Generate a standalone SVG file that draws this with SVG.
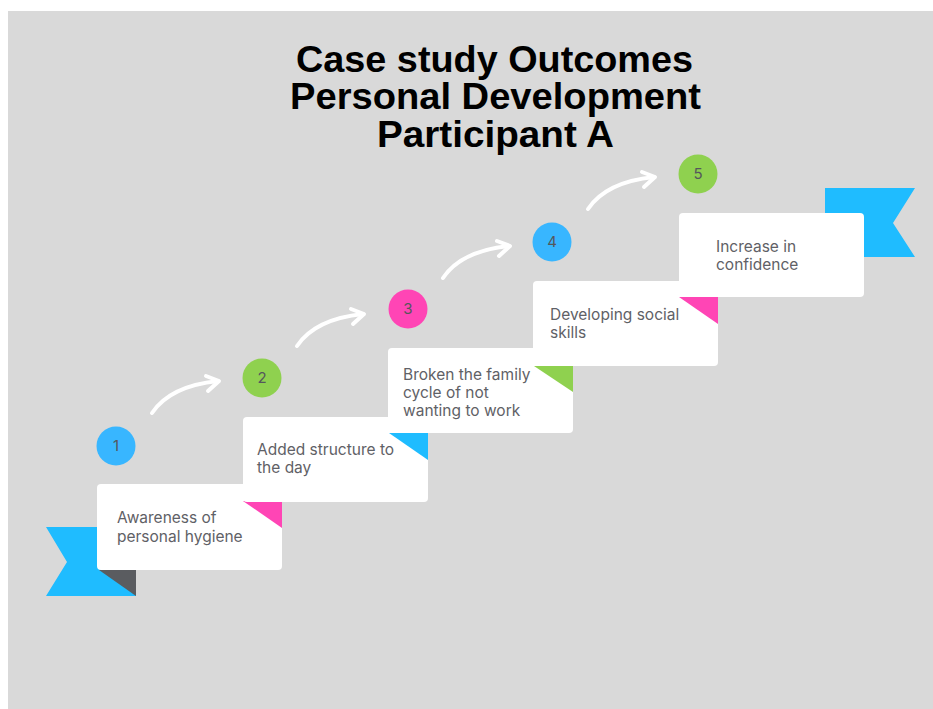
<svg xmlns="http://www.w3.org/2000/svg" width="933" height="709" viewBox="0 0 933 709">
  <defs>
    <style>
      .card { fill: #ffffff; }
      .label { font-family: Inter, "Open Sans", "Liberation Sans", sans-serif; font-size: 15.5px; fill: #5f6166; }
      .num { font-family: Inter, "Open Sans", "Liberation Sans", sans-serif; font-size: 15px; fill: #55575c; text-anchor: middle; }
      .title { font-family: "Liberation Sans", Arial, sans-serif; font-weight: bold; font-size: 37px; fill: #000000; }
      .arrow { fill: none; stroke: #ffffff; stroke-width: 4; stroke-linecap: round; stroke-linejoin: round; }
      .blue { fill: #1fbcff; }
      .cblue { fill: #38b6ff; }
      .green { fill: #8fd14f; }
      .pink { fill: #ff45b5; }
    </style>
    <g id="curve-arrow">
      <path class="arrow" d="M152,413 Q170,386 218,381"/>
      <path class="arrow" d="M206,376 L219,381 L208,391"/>
    </g>
  </defs>

  <!-- background -->
  <rect x="0" y="0" width="933" height="709" fill="#ffffff"/>
  <rect x="8" y="11" width="925" height="698" fill="#d9d9d9"/>

  <!-- title -->
  <g id="title">
    <text class="title" x="296" y="72" textLength="397" lengthAdjust="spacingAndGlyphs">Case study Outcomes</text>
    <text class="title" x="290" y="109" textLength="411" lengthAdjust="spacingAndGlyphs">Personal Development</text>
    <text class="title" x="377" y="147" textLength="237" lengthAdjust="spacingAndGlyphs">Participant A</text>
  </g>

  <!-- ribbons -->
  <g id="ribbon-left">
    <polygon class="blue" points="46,527 136,527 136,596 46,596 67,562"/>
    <polygon fill="#5a5c60" points="99,570 136,570 136,596"/>
  </g>
  <g id="ribbon-right">
    <polygon class="blue" points="825,188 915,188 893,223 915,257 825,257"/>
  </g>

  <!-- connectors -->
  <g id="connectors">
    <use href="#curve-arrow"/>
    <use href="#curve-arrow" transform="translate(145,-67)"/>
    <use href="#curve-arrow" transform="translate(291,-135)"/>
    <use href="#curve-arrow" transform="translate(436,-204)"/>
  </g>

  <!-- step 1 -->
  <g id="step1">
    <circle class="cblue" cx="116" cy="446" r="19.5"/>
    <text class="num" x="116" y="451">1</text>
    <rect class="card" x="97" y="484" width="185" height="86" rx="4"/>
    <polygon class="pink" points="243,501 282,501 282,528"/>
    <text class="label" x="117" y="523">Awareness of</text>
    <text class="label" x="117" y="542">personal hygiene</text>
  </g>

  <!-- step 2 -->
  <g id="step2">
    <circle class="green" cx="262" cy="378" r="19.5"/>
    <text class="num" x="262" y="383">2</text>
    <rect class="card" x="243" y="417" width="185" height="85" rx="4"/>
    <polygon class="blue" points="389,433 428,433 428,460"/>
    <text class="label" x="257" y="455">Added structure to</text>
    <text class="label" x="257" y="473">the day</text>
  </g>

  <!-- step 3 -->
  <g id="step3">
    <circle class="pink" cx="408" cy="309" r="19.5"/>
    <text class="num" x="408" y="314">3</text>
    <rect class="card" x="388" y="348" width="185" height="85" rx="4"/>
    <polygon class="green" points="534,366 573,366 573,392"/>
    <text class="label" x="403" y="380">Broken the family</text>
    <text class="label" x="403" y="398">cycle of not</text>
    <text class="label" x="403" y="416">wanting to work</text>
  </g>

  <!-- step 4 -->
  <g id="step4">
    <circle class="cblue" cx="552" cy="242" r="19.5"/>
    <text class="num" x="552" y="247">4</text>
    <rect class="card" x="533" y="281" width="185" height="85" rx="4"/>
    <polygon class="pink" points="679,297 718,297 718,324"/>
    <text class="label" x="550" y="320">Developing social</text>
    <text class="label" x="550" y="338">skills</text>
  </g>

  <!-- step 5 -->
  <g id="step5">
    <circle class="green" cx="698" cy="174" r="19.5"/>
    <text class="num" x="698" y="179">5</text>
    <rect class="card" x="679" y="213" width="185" height="84" rx="4"/>
    <text class="label" x="716" y="252">Increase in</text>
    <text class="label" x="716" y="270">confidence</text>
  </g>
</svg>
